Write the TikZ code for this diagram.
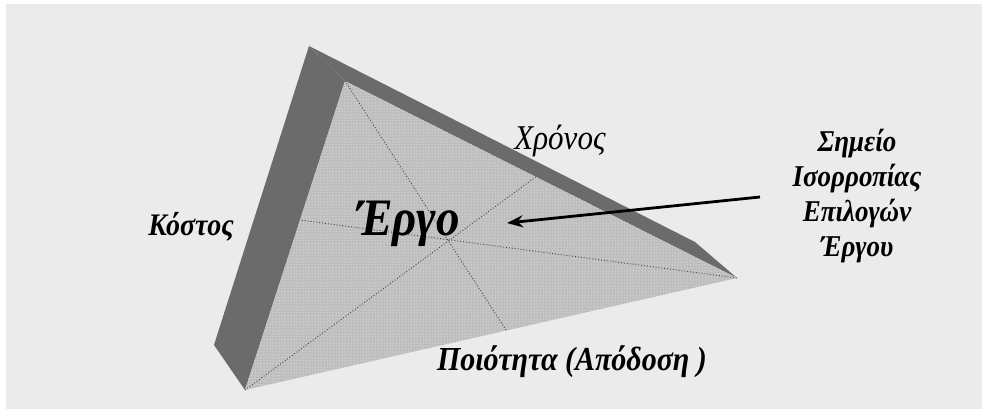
\documentclass[tikz,border=0pt]{standalone}
\usepackage{fontspec}
\setmainfont{Liberation Serif}
\usetikzlibrary{patterns,arrows.meta}
\definecolor{bgc}{HTML}{EBEBEB}
\definecolor{side}{HTML}{6B6B6B}
\definecolor{face}{HTML}{BDBDBD}
\begin{document}
\begin{tikzpicture}[x=1pt,y=-1pt,
 lbl/.style={font=\bfseries\itshape\fontsize{28}{32}\selectfont, inner sep=0pt, yscale=1.12, transform shape},
 guide/.style={draw=black!75, line width=0.9pt, dotted},
 pointer/.style={-{Stealth[length=16pt,width=12pt]}, line width=2.8pt}]
\useasboundingbox (0,0) rectangle (986,412);
\fill[white] (0,0) rectangle (986,412);
\fill[bgc] (6,4) rectangle (982,409);
% vertices
\coordinate (O) at (309,46);
\coordinate (T) at (345,81);
\coordinate (R) at (737,278);
\coordinate (K) at (695,242);
\coordinate (B) at (245,390);
\coordinate (L) at (214,345);
% side faces
\fill[side] (O) -- (T) -- (B) -- (L) -- cycle;
\fill[side] (O) -- (K) -- (R) -- (T) -- cycle;
% front face
\fill[face] (T) -- (R) -- (B) -- cycle;
\fill[pattern=dots, pattern color=white] (T) -- (R) -- (B) -- cycle;
% medians
\coordinate (mL) at (300,220);
\coordinate (mB) at (506,330);
\coordinate (mR) at (537,176);
\draw[guide] (T) -- (mB);
\draw[guide] (R) -- (mL);
\draw[guide] (B) -- (mR);
% labels
\node[lbl] (cost) at (191,227) {Κόστος};
\node[lbl, font=\itshape\fontsize{31}{34}\selectfont] (time) at (560,141) {Χρόνος};
\node[lbl, font=\bfseries\itshape\fontsize{47}{50}\selectfont] (proj) at (408,224) {Έργο};
\node[lbl] (qual) at (572,362) {\fontsize{30}{34}\selectfont Ποιότητα (Απόδοση )};
\node[lbl, align=center, font=\bfseries\itshape\fontsize{27}{31}\selectfont] (eq) at (857,196) {Σημείο\\Ισορροπίας\\Επιλογών\\Έργου};
% arrow
\coordinate (aS) at (760,197);
\coordinate (aE) at (507,223);
\draw[pointer] (aS) -- (aE);
\end{tikzpicture}
\end{document}
